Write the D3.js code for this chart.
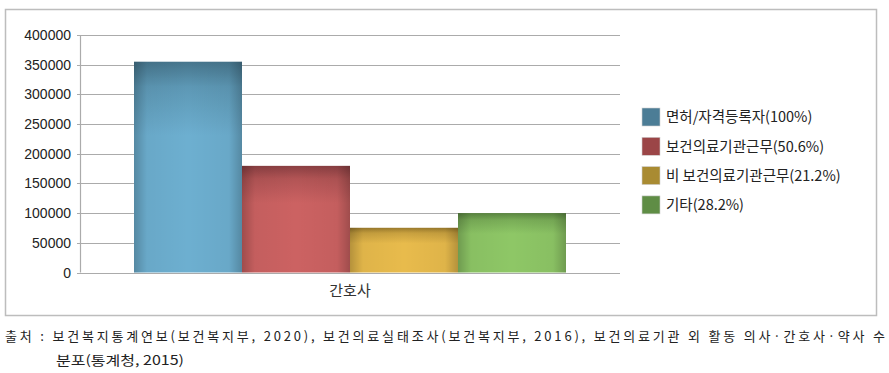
<!DOCTYPE html>
<html>
<head>
<meta charset="utf-8">
<script src="https://cdn.jsdelivr.net/npm/d3@7"></script>
<style>
  body { margin: 0; background: #fff; }
  svg { display: block; }
</style>
</head>
<body>
<div id="chart"></div>
<script>
// data
var category = "간호사";
var seriesNames = ["면허/자격등록자(100%)", "보건의료기관근무(50.6%)", "비 보건의료기관근무(21.2%)", "기타(28.2%)"];
var seriesValues = [355000, 179600, 75300, 100100];
var yTicks = [0, 50000, 100000, 150000, 200000, 250000, 300000, 350000, 400000];
var sourceLines = [
    "출처 : 보건복지통계연보(보건복지부, 2020), 보건의료실태조사(보건복지부, 2016), 보건의료기관 외 활동 의사·간호사·약사 수",
    "분포(통계청, 2015)"
];

// bar colours: top (dark), centre (light), legend swatch
var barTop = ["#46758c", "#8a3f42", "#9a7a2c", "#5a8540"];
var barMid = ["#6dafd0", "#cc6262", "#e8bb4c", "#8ec766"];
var swatch = ["#4c7d96", "#9b4547", "#a98b32", "#5f8d45"];

var width = 889, height = 373;
var plot = { left: 80, right: 620, top: 35, bottom: 272.5 };

var svg = d3.select("#chart").append("svg")
    .attr("width", width)
    .attr("height", height);

var defs = svg.append("defs");

// gradients - vertical (dark top) plus an edge shade overlay
seriesNames.forEach(function(s, i) {
    var g = defs.append("linearGradient")
        .attr("id", "vg" + i)
        .attr("x1", 0).attr("y1", 0).attr("x2", 0).attr("y2", 1);
    g.append("stop").attr("offset", "0%").attr("stop-color", barTop[i]);
    g.append("stop").attr("offset", "12%").attr("stop-color", d3.interpolateRgb(barTop[i], barMid[i])(0.6));
    g.append("stop").attr("offset", "35%").attr("stop-color", barMid[i]);
    g.append("stop").attr("offset", "100%").attr("stop-color", barMid[i]);
});
var hg = defs.append("linearGradient")
    .attr("id", "hshade")
    .attr("x1", 0).attr("y1", 0).attr("x2", 1).attr("y2", 0);
hg.append("stop").attr("offset", "0%").attr("stop-color", "#000").attr("stop-opacity", 0.22);
hg.append("stop").attr("offset", "12%").attr("stop-color", "#000").attr("stop-opacity", 0.04);
hg.append("stop").attr("offset", "50%").attr("stop-color", "#000").attr("stop-opacity", 0);
hg.append("stop").attr("offset", "88%").attr("stop-color", "#000").attr("stop-opacity", 0.04);
hg.append("stop").attr("offset", "100%").attr("stop-color", "#000").attr("stop-opacity", 0.22);

// outer frame
svg.append("rect")
    .attr("x", 5.5).attr("y", 9.5)
    .attr("width", 871).attr("height", 306)
    .attr("fill", "#fff")
    .attr("stroke", "#bdbdbd")
    .attr("stroke-width", 1.5);

var x = d3.scaleBand()
    .domain([category])
    .range([plot.left, plot.right])
    .paddingInner(0).paddingOuter(0);

var xSub = d3.scaleBand()
    .domain(seriesNames)
    .range([0, x.bandwidth() * 0.8]);

var y = d3.scaleLinear()
    .domain([0, 400000])
    .range([plot.bottom, plot.top]);

// grid lines
svg.append("g")
    .selectAll("line")
    .data(yTicks)
    .enter().append("line")
    .attr("x1", plot.left - 3)
    .attr("x2", plot.right)
    .attr("y1", function(d) { return Math.round(y(d)) + 0.5; })
    .attr("y2", function(d) { return Math.round(y(d)) + 0.5; })
    .attr("stroke", "#ababab")
    .attr("stroke-width", 1.2);

// y axis line
svg.append("line")
    .attr("x1", plot.left + 0.5).attr("x2", plot.left + 0.5)
    .attr("y1", plot.top).attr("y2", plot.bottom)
    .attr("stroke", "#ababab")
    .attr("stroke-width", 1.2);

// y labels
svg.append("g")
    .selectAll("text")
    .data(yTicks)
    .enter().append("text")
    .attr("x", 71)
    .attr("y", function(d) { return y(d); })
    .attr("dy", "0.36em")
    .attr("text-anchor", "end")
    .attr("font-family", "Liberation Sans, Arial, sans-serif")
    .attr("font-size", "14px")
    .attr("fill", "#222")
    .text(function(d) { return d; });

// bars
var x0 = x(category) + x.bandwidth() * 0.1;
var bars = svg.append("g").selectAll(".bar")
    .data(seriesValues)
    .enter().append("g")
    .attr("class", "bar");

bars.append("rect")
    .attr("x", function(d, i) { return x0 + xSub(seriesNames[i]); })
    .attr("y", function(d) { return y(d); })
    .attr("width", xSub.bandwidth())
    .attr("height", function(d) { return plot.bottom - y(d); })
    .attr("fill", function(d, i) { return "url(#vg" + i + ")"; });

bars.append("rect")
    .attr("x", function(d, i) { return x0 + xSub(seriesNames[i]); })
    .attr("y", function(d) { return y(d); })
    .attr("width", xSub.bandwidth())
    .attr("height", function(d) { return plot.bottom - y(d); })
    .attr("fill", "url(#hshade)");

// category label
svg.append("text")
    .attr("x", x(category) + x.bandwidth() / 2)
    .attr("y", 296)
    .attr("text-anchor", "middle")
    .attr("font-family", "Noto Sans CJK KR, sans-serif")
    .attr("font-size", "15px")
    .attr("fill", "#333")
    .text(category);

// legend
var legend = svg.selectAll(".legend")
    .data(seriesNames)
    .enter().append("g")
    .attr("class", "legend")
    .attr("transform", function(d, i) { return "translate(642," + (108 + i * 29.3) + ")"; });

legend.append("rect")
    .attr("width", 18)
    .attr("height", 18)
    .attr("fill", function(d, i) { return swatch[i]; })
    .attr("stroke", "#d0d0d0")
    .attr("stroke-width", 0.6);

legend.append("text")
    .attr("x", 24)
    .attr("y", 9)
    .attr("dy", "0.36em")
    .attr("font-family", "Noto Sans CJK KR, sans-serif")
    .attr("font-size", "14.5px")
    .attr("fill", "#222")
    .text(function(d) { return d; });

// source note
svg.append("text")
    .attr("x", 5)
    .attr("y", 341)
    .attr("font-family", "Noto Sans CJK KR, sans-serif")
    .attr("font-size", "13px")
    .attr("fill", "#222")
    .attr("textLength", 880)
    .attr("lengthAdjust", "spacing")
    .text(sourceLines[0]);

svg.append("text")
    .attr("x", 56)
    .attr("y", 365)
    .attr("font-family", "Noto Sans CJK KR, sans-serif")
    .attr("font-size", "13px")
    .attr("fill", "#222")
    .attr("textLength", 128)
    .attr("lengthAdjust", "spacingAndGlyphs")
    .text(sourceLines[1]);
</script>
</body>
</html>
